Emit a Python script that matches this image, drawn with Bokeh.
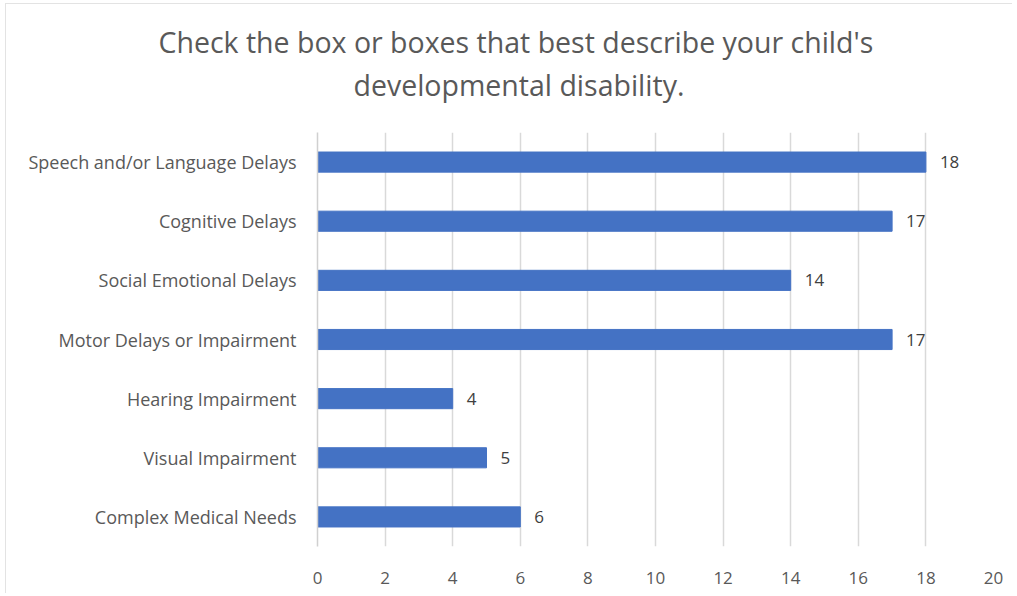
from bokeh.plotting import figure
from bokeh.models import FactorRange, Range1d, FixedTicker, ColumnDataSource, Title
from bokeh.core.properties import value
from bokeh.embed import file_html
from bokeh.resources import INLINE

categories = ["Speech and/or Language Delays", "Cognitive Delays", "Social Emotional Delays",
              "Motor Delays or Impairment", "Hearing Impairment", "Visual Impairment",
              "Complex Medical Needs"]
counts = [18, 17, 14, 17, 4, 5, 6]
x_ticks = [0, 2, 4, 6, 8, 10, 12, 14, 16, 18, 20]
title_lines = ["Check the box or boxes that best describe your child's",
               "developmental disability."]

FONT = "Open Sans"
GRAY = "#595959"

src = ColumnDataSource(dict(cat=categories, val=counts, lbl=[str(v) for v in counts]))

p = figure(width=1007, height=590, output_backend="svg", toolbar_location=None,
           y_range=FactorRange(factors=categories[::-1], range_padding=0),
           x_range=Range1d(0, 20))
p.min_border_left = 311
p.min_border_right = 20
p.min_border_top = 128
p.min_border_bottom = 48
p.outline_line_color = None
p.background_fill_color = "white"
p.border_fill_color = "white"
p.styles = {"margin-left": "5px", "margin-top": "3px",
            "border-top": "1px solid #e3e3e3", "border-left": "1px solid #e3e3e3"}

p.hbar(y="cat", right="val", left=0, height=0.34, source=src,
       fill_color="#4472C4", line_color="#4472C4")
p.text(x="val", y="cat", text="lbl", source=src, x_offset=14,
       text_align="left", text_baseline="middle",
       text_font=value(FONT), text_font_size="17px", text_color="#404040")

# x axis
p.xaxis.ticker = FixedTicker(ticks=x_ticks)
p.xaxis.axis_line_color = None
p.xaxis.major_tick_line_color = None
p.xaxis.minor_tick_line_color = None
p.xaxis.major_label_text_font = FONT
p.xaxis.major_label_text_font_size = "17px"
p.xaxis.major_label_text_color = GRAY
p.xaxis.major_label_standoff = 19
p.xgrid.grid_line_color = "#d9d9d9"
p.xgrid.grid_line_width = 1.5
p.ygrid.grid_line_color = None

# y axis
p.yaxis.axis_line_color = "#d0d0d0"
p.yaxis.axis_line_width = 1.5
p.yaxis.major_tick_line_color = None
p.yaxis.minor_tick_line_color = None
p.yaxis.major_label_text_font = FONT
p.yaxis.major_label_text_font_size = "18px"
p.yaxis.major_label_text_color = GRAY
p.yaxis.major_label_standoff = 15

# title (two lines); nearest-to-plot added first, with a spacer below
p.add_layout(Title(text=" ", standoff=26, text_font_size="1px"), "above")
p.add_layout(Title(text=title_lines[1], align="left", offset=36, standoff=0,
                   text_font=FONT, text_font_size="28.5px", text_font_style="normal",
                   text_color=GRAY), "above")
p.add_layout(Title(text=title_lines[0], align="left", offset=-159, standoff=6,
                   text_font=FONT, text_font_size="28.5px", text_font_style="normal",
                   text_color=GRAY), "above")

open("out.html", "w").write(file_html(p, INLINE))
